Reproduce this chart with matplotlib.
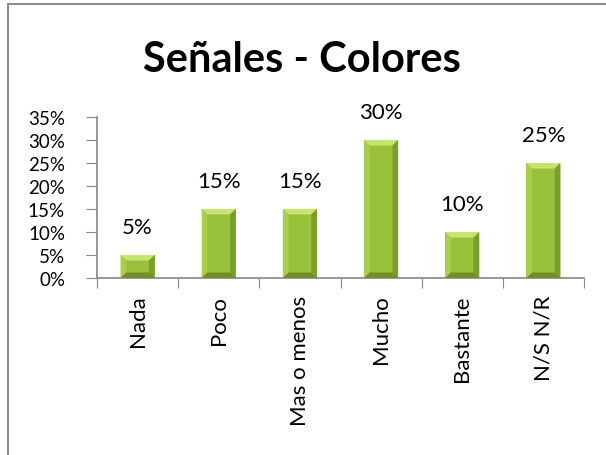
import matplotlib.pyplot as plt
from matplotlib.patches import Polygon, Rectangle
from matplotlib.ticker import FuncFormatter

# respuestas de la encuesta
categorias = ['Nada', 'Poco', 'Mas o menos', 'Mucho', 'Bastante', 'N/S N/R']
porcentajes = [0.05, 0.15, 0.15, 0.30, 0.10, 0.25]
yticks = [0, 0.05, 0.10, 0.15, 0.20, 0.25, 0.30, 0.35]

plt.rcParams['font.family'] = ['Lato', 'DejaVu Sans']

fig = plt.figure(figsize=(6.06, 4.56), dpi=100)
# marco del grafico
fig.patches.append(Rectangle((8 / 606, -0.1), 1.2, (451 / 456) + 0.1,
                             transform=fig.transFigure, fill=False,
                             edgecolor='#8c8c8c', linewidth=1.5))

ax = fig.add_axes([97 / 606, 1 - 279 / 456, (584 - 97) / 606, (279 - 118) / 456])
ax.set_xlim(0, len(categorias))
ax.set_ylim(0, 0.35)

ancho = 0.42
bx = 0.07    # bisel horizontal
by = 0.012   # bisel vertical
for i, v in enumerate(porcentajes):
    x0 = i + 0.5 - ancho / 2
    x1 = i + 0.5 + ancho / 2
    b = min(by, v / 3)
    ax.add_patch(Rectangle((x0, 0), ancho, v, facecolor='#98c03a', edgecolor='none', zorder=2))
    # cara superior
    ax.add_patch(Polygon([(x0, v), (x1, v), (x1 - bx, v - b), (x0 + bx, v - b)],
                         closed=True, facecolor='#c8e470', edgecolor='none', zorder=3))
    # lado izquierdo
    ax.add_patch(Polygon([(x0, 0), (x0, v), (x0 + bx, v - b), (x0 + bx, b)],
                         closed=True, facecolor='#a9cf4a', edgecolor='none', zorder=3))
    # lado derecho
    ax.add_patch(Polygon([(x1, 0), (x1, v), (x1 - bx, v - b), (x1 - bx, b)],
                         closed=True, facecolor='#7a9e2a', edgecolor='none', zorder=3))
    # base
    ax.add_patch(Polygon([(x0, 0), (x1, 0), (x1 - bx, b), (x0 + bx, b)],
                         closed=True, facecolor='#718f28', edgecolor='none', zorder=3))
    ax.text(i + 0.5, v + 0.06, '{:.0%}'.format(v), ha='center', va='center', fontsize=16)

for s in ['top', 'right']:
    ax.spines[s].set_visible(False)
for s in ['left', 'bottom']:
    ax.spines[s].set_color('#868686')
    ax.spines[s].set_linewidth(1.2)

ax.set_yticks(yticks)
ax.yaxis.set_major_formatter(FuncFormatter(lambda y, p: '{:.0%}'.format(y)))
ax.tick_params(axis='y', length=8, color='#868686', labelsize=13.5, pad=15)

ax.set_xticks(range(len(categorias) + 1))
ax.set_xticklabels([])
ax.set_xticks([i + 0.5 for i in range(len(categorias))], minor=True)
ax.set_xticklabels(categorias, minor=True, rotation=90, fontsize=16)
ax.tick_params(axis='x', which='major', length=7, color='#868686')
ax.tick_params(axis='x', which='minor', length=0, pad=12)

fig.text(302 / 606, 1 - 60 / 456, 'Señales - Colores', ha='center', va='center',
         fontsize=30, fontweight='bold')

plt.savefig('out.png', dpi=100)
